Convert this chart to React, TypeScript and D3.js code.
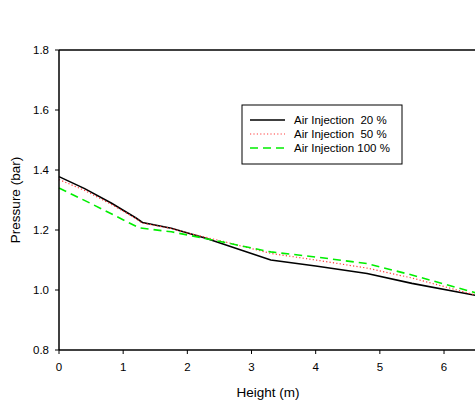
import React from "react";
import * as d3 from "d3";

const heights20 = [0, 0.4, 0.82, 1.2, 1.3, 1.75, 2.3, 3.3, 4.0, 4.8, 5.5, 6.5, 7.0];
const pressure20 = [1.378, 1.338, 1.289, 1.24, 1.225, 1.206, 1.172, 1.1, 1.08, 1.055, 1.022, 0.982, 0.962];

const heights50 = [0, 0.4, 0.82, 1.2, 1.3, 1.75, 2.0, 2.5, 3.3, 4.0, 4.8, 5.5, 6.5, 7.0];
const pressure50 = [1.368, 1.332, 1.285, 1.238, 1.223, 1.205, 1.19, 1.165, 1.122, 1.1, 1.073, 1.04, 0.983, 0.96];

const heights100 = [0, 0.5, 1.25, 1.75, 2.3, 3.3, 4.0, 4.8, 5.5, 6.5, 7.0];
const pressure100 = [1.34, 1.288, 1.207, 1.194, 1.171, 1.127, 1.11, 1.088, 1.05, 0.99, 0.965];

const seriesNames = ["Air Injection  20 %", "Air Injection  50 %", "Air Injection 100 %"];
const xTicks = [0, 1, 2, 3, 4, 5, 6];
const yTicks = [0.8, 1.0, 1.2, 1.4, 1.6, 1.8];

const FONT = "'Liberation Sans', Arial, Helvetica, sans-serif";

export default function App() {
  const W = 475;
  const H = 407;
  const x = d3.scaleLinear().domain([0, 7]).range([59, 508.2]);
  const y = d3.scaleLinear().domain([0.8, 1.8]).range([350, 50]);
  const line = d3
    .line<[number, number]>()
    .x((d) => x(d[0]))
    .y((d) => y(d[1]));

  const series = [
    { xs: heights20, ys: pressure20, stroke: "#000000", width: 1.6, dash: undefined as string | undefined },
    { xs: heights50, ys: pressure50, stroke: "#ff3b3b", width: 1.2, dash: "1.2,2.2" },
    { xs: heights100, ys: pressure100, stroke: "#00ee00", width: 1.6, dash: "8,5" },
  ];

  const legendRows = [120, 134, 148];

  return (
    <svg
      width={W}
      height={H}
      style={{ position: "fixed", left: 0, top: 0, background: "#fff" }}
      fontFamily={FONT}
    >
      <rect x={0} y={0} width={W} height={H} fill="#fff" />
      {series.map((s, i) => (
        <path
          key={i}
          d={line(s.xs.map((h, j) => [h, s.ys[j]] as [number, number])) || ""}
          fill="none"
          stroke={s.stroke}
          strokeWidth={s.width}
          strokeDasharray={s.dash}
        />
      ))}
      {/* frame */}
      <line x1={x(0)} x2={x(7)} y1={y(1.8)} y2={y(1.8)} stroke="#000" strokeWidth={1.5} />
      <line x1={x(7)} x2={x(7)} y1={y(1.8)} y2={y(0.8)} stroke="#000" strokeWidth={1.5} />
      <line x1={x(0)} x2={x(7)} y1={y(0.8)} y2={y(0.8)} stroke="#000" strokeWidth={1.5} />
      <line x1={x(0)} x2={x(0)} y1={y(1.8)} y2={y(0.8)} stroke="#000" strokeWidth={1.5} />
      {/* y ticks */}
      {yTicks.map((t) => (
        <g key={"y" + t}>
          <line x1={x(0) - 4} x2={x(0)} y1={y(t)} y2={y(t)} stroke="#000" strokeWidth={1} />
          <text x={49} y={y(t)} dy="0.35em" textAnchor="end" fontSize={11.5} fill="#000">
            {t.toFixed(1)}
          </text>
        </g>
      ))}
      {/* x ticks */}
      {xTicks.map((t) => (
        <g key={"x" + t}>
          <line x1={x(t)} x2={x(t)} y1={y(0.8)} y2={y(0.8) + 4} stroke="#000" strokeWidth={1} />
          <text x={x(t)} y={367} dy="0.35em" textAnchor="middle" fontSize={11.5} fill="#000">
            {t}
          </text>
        </g>
      ))}
      <text x={268} y={392} dy="0.35em" textAnchor="middle" fontSize={13.5} fill="#000">
        Height (m)
      </text>
      <text
        transform={`translate(15.5,200) rotate(-90)`}
        dy="0.35em"
        textAnchor="middle"
        fontSize={13.5}
        fill="#000"
      >
        Pressure (bar)
      </text>
      {/* legend */}
      <rect x={242} y={105} width={160} height={59} fill="#fff" stroke="#000" strokeWidth={1} />
      {series.map((s, i) => (
        <g key={"l" + i}>
          <line
            x1={250}
            x2={285}
            y1={legendRows[i]}
            y2={legendRows[i]}
            stroke={s.stroke}
            strokeWidth={s.width}
            strokeDasharray={s.dash}
          />
          <text
            x={294}
            y={legendRows[i]}
            dy="0.35em"
            fontSize={11.5}
            fill="#000"
            style={{ whiteSpace: "pre" }}
          >
            {seriesNames[i]}
          </text>
        </g>
      ))}
    </svg>
  );
}
